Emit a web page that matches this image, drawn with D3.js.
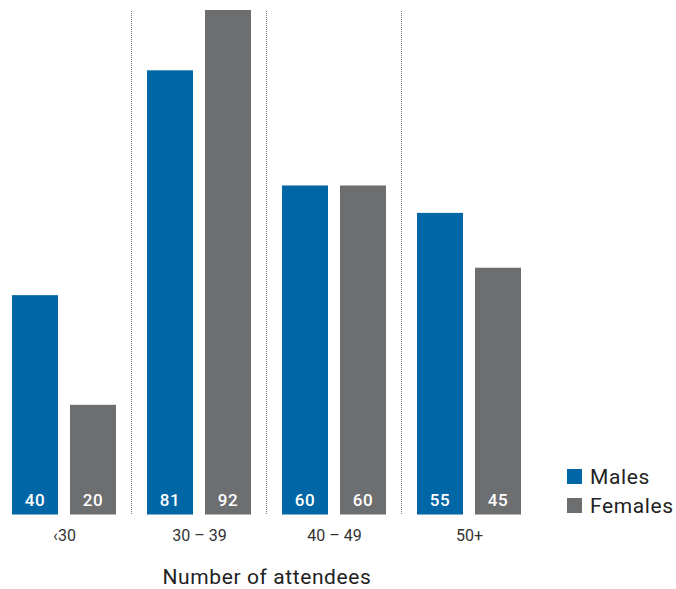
<!DOCTYPE html>
<html>
<head>
<meta charset="utf-8">
<script src="https://cdn.jsdelivr.net/npm/d3@7"></script>
<style>
  body { margin: 0; background: #fff; }
  svg { display: block; font-family: Roboto, "DejaVu Sans", sans-serif; }
</style>
</head>
<body>
<svg id="svg1" width="676" height="589"></svg>
<script>
var groups = ['<30', '30 – 39', '40 – 49', '50+'];
var tickLabels = ['‹30', '30 – 39', '40 – 49', '50+'];
var seriesNames = ['Males', 'Females'];
var males = [40, 81, 60, 55];
var females = [20, 92, 60, 45];

var colors = ['#0066a5', '#6d6e70'];

var svg = d3.select('svg');

var baseY = 514.5;

// outer scale for age groups, inner for the two series
var x0 = d3.scaleBand().domain(groups).range([-3.5, 536.5]);
var x1 = d3.scaleBand().domain(seriesNames).range([15.5, 119.5]).paddingInner(12 / 58);
var y = d3.scaleLinear().domain([0, 92]).range([baseY, 10]);

var rows = groups.map(function(g, i) {
    return { group: g, label: tickLabels[i], values: [males[i], females[i]] };
});

// dotted dividers between groups
svg.selectAll('line.divider')
    .data(groups.slice(1))
    .enter()
    .append('line')
    .attr('class', 'divider')
    .attr('x1', function(d) { return x0(d); })
    .attr('x2', function(d) { return x0(d); })
    .attr('y1', 11)
    .attr('y2', baseY)
    .attr('stroke', '#777')
    .attr('stroke-width', 1)
    .attr('stroke-dasharray', '1,1');

var g = svg.selectAll('g.group')
    .data(rows)
    .enter()
    .append('g')
    .attr('class', 'group')
    .attr('transform', function(d) { return 'translate(' + x0(d.group) + ',0)'; });

var bar = g.selectAll('g.bar')
    .data(function(d) {
        return d.values.map(function(v, i) { return { key: seriesNames[i], value: v, i: i }; });
    })
    .enter()
    .append('g')
    .attr('class', 'bar');

bar.append('rect')
    .attr('x', function(d) { return x1(d.key); })
    .attr('width', x1.bandwidth())
    .attr('y', function(d) { return y(d.value); })
    .attr('height', function(d) { return baseY - y(d.value); })
    .attr('fill', function(d) { return colors[d.i]; });

bar.append('text')
    .attr('x', function(d) { return x1(d.key) + x1.bandwidth() / 2; })
    .attr('y', baseY - 9)
    .attr('text-anchor', 'middle')
    .attr('fill', '#fff')
    .attr('font-size', 17)
    .attr('font-weight', 500)
    .attr('letter-spacing', 0.5)
    .text(function(d) { return d.value; });

// category labels
g.append('text')
    .attr('x', x0.bandwidth() / 2 + 0.5)
    .attr('y', 541)
    .attr('text-anchor', 'middle')
    .attr('fill', '#333')
    .attr('font-size', 16)
    .text(function(d) { return d.label; });

// axis title
svg.append('text')
    .attr('x', 267)
    .attr('y', 584)
    .attr('text-anchor', 'middle')
    .attr('fill', '#222')
    .attr('font-size', 21)
    .attr('letter-spacing', 0.6)
    .text('Number of attendees');

// legend
var legend = svg.selectAll('g.legend')
    .data(seriesNames)
    .enter()
    .append('g')
    .attr('class', 'legend')
    .attr('transform', function(d, i) { return 'translate(567,' + (469 + i * 29) + ')'; });

legend.append('rect')
    .attr('width', 15)
    .attr('height', 15)
    .attr('fill', function(d, i) { return colors[i]; });

legend.append('text')
    .attr('x', 23)
    .attr('y', 15)
    .attr('fill', '#222')
    .attr('font-size', 21)
    .attr('letter-spacing', 0.6)
    .text(function(d) { return d; });
</script>
</body>
</html>
